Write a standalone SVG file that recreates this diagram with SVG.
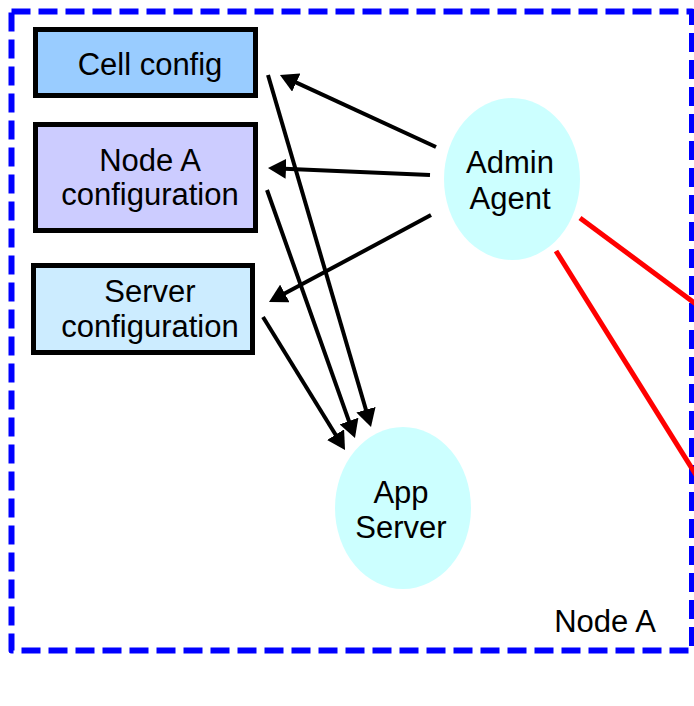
<svg xmlns="http://www.w3.org/2000/svg" width="694" height="706" viewBox="0 0 694 706">
<style>
  .box { stroke: #000; stroke-width: 5; }
  .ell { fill: #CCFFFF; stroke: none; }
  .lbl { font-family: "Liberation Sans", Arial, sans-serif; font-size: 31px; fill: #000; text-anchor: middle; }
  .arr { stroke: #000; stroke-width: 4; fill: none; marker-end: url(#ah); }
  .red { stroke: #FF0000; stroke-width: 5; fill: none; }
</style>
<defs>
  <marker id="ah" markerUnits="userSpaceOnUse" markerWidth="18" markerHeight="20" refX="13" refY="10" orient="auto" viewBox="0 0 18 20">
    <path d="M0,0 L18,10 L0,20 z" fill="#000"/>
  </marker>
</defs>
<rect width="694" height="706" fill="#fff"/>
<g id="nodeA-frame">
  <rect x="11.5" y="11.5" width="680.5" height="639" fill="none" stroke="#0000FF" stroke-width="6" stroke-dasharray="19 8" stroke-linejoin="round"/>
  <text class="lbl" x="605" y="632">Node A</text>
</g>
<g id="cell-config">
  <rect class="box" x="35.5" y="29.5" width="220" height="66" fill="#99CCFF"/>
  <text class="lbl" x="150" y="75">Cell config</text>
</g>
<g id="node-config">
  <rect class="box" x="35.5" y="124.5" width="220" height="106" fill="#CCCCFF"/>
  <text class="lbl" x="150" y="171">Node A</text>
  <text class="lbl" x="150" y="205">configuration</text>
</g>
<g id="server-config">
  <rect class="box" x="33.5" y="265.5" width="219" height="87" fill="#CCECFF"/>
  <text class="lbl" x="150" y="302">Server</text>
  <text class="lbl" x="150" y="337">configuration</text>
</g>
<g id="admin-agent">
  <ellipse class="ell" cx="512" cy="179" rx="68" ry="81"/>
  <text class="lbl" x="510" y="173">Admin</text>
  <text class="lbl" x="510" y="209">Agent</text>
</g>
<g id="app-server">
  <ellipse class="ell" cx="403" cy="508" rx="68" ry="81"/>
  <text class="lbl" x="401" y="503">App</text>
  <text class="lbl" x="401" y="538">Server</text>
</g>
<g id="connectors">
  <line class="arr" x1="436" y1="147" x2="284.5" y2="77.1"/>
  <line class="arr" x1="430" y1="175" x2="273" y2="168.2"/>
  <line class="arr" x1="431" y1="215" x2="273.4" y2="299.6"/>
  <line class="arr" x1="268" y1="75" x2="369.6" y2="422.2"/>
  <line class="arr" x1="267" y1="190" x2="353.3" y2="433.3"/>
  <line class="arr" x1="263" y1="317" x2="342.4" y2="445.7"/>
  <line class="red" x1="580" y1="218" x2="696" y2="304"/>
  <line class="red" x1="556" y1="251" x2="696" y2="475"/>
</g>
</svg>
